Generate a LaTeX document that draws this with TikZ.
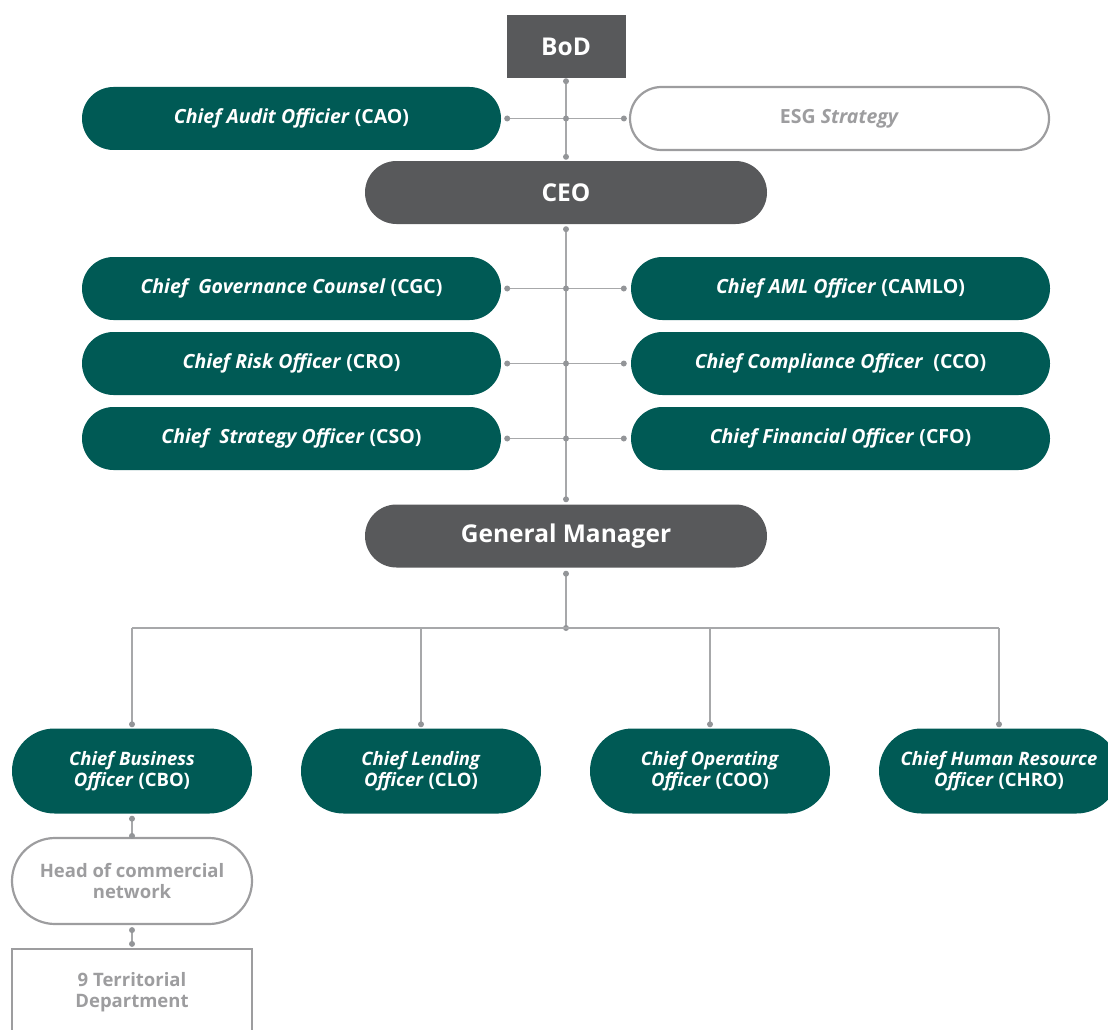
\documentclass[tikz,border=0pt]{standalone}
\usepackage{fontspec}
\setmainfont{Open Sans}
\usetikzlibrary{calc}

\definecolor{deepgreen}{HTML}{005A55}
\definecolor{slate}{HTML}{58595B}
\definecolor{wire}{HTML}{A7A8AA}
\definecolor{knob}{HTML}{939598}
\definecolor{pale}{HTML}{9D9D9F}

\begin{document}
\begin{tikzpicture}[x=1pt, y=-1pt,
  every node/.style={font=\bfseries\fontsize{18.5}{21.5}\selectfont, align=center, inner sep=0pt},
  top/.style={fill=slate, text=white, font=\bfseries\fontsize{24.5}{30}\selectfont},
  wide/.style={minimum width=402pt, minimum height=63pt, rounded corners=31.5pt},
  officer/.style={fill=deepgreen, text=white, minimum width=419pt, minimum height=63pt, rounded corners=31.5pt, font=\bfseries\fontsize{19.5}{23}\selectfont},
  unit/.style={fill=deepgreen, text=white, minimum width=240pt, minimum height=85pt, rounded corners=42.5pt},
  ghost/.style={draw=pale, line width=2.2pt, fill=white, text=pale},
  link/.style={draw=wire, line width=1.4pt},
  dot/.style={circle, fill=knob, inner sep=0pt, minimum size=6pt}
]
\useasboundingbox (0,0) rectangle (1108,1030);

% top of the chart
\node[top, minimum width=119pt, minimum height=63pt] (bod) at (566,46.5) {BoD};
\node[officer] (cao) at (291.5,118.5) {\textit{Chief Audit Officier} (CAO)};
\node[ghost, minimum width=419pt, minimum height=63pt, rounded corners=31.5pt, font=\bfseries\fontsize{19.5}{23}\selectfont] (esg) at (839.5,118.5) {ESG \textit{Strategy}};
\node[top, wide] (ceo) at (566,192.5) {CEO};

% staff officers
\node[officer] (cgc) at (291.5,288.5) {\textit{Chief\ \ Governance Counsel} (CGC)};
\node[officer] (camlo) at (840.5,288.5) {\textit{Chief AML Officer} (CAMLO)};
\node[officer] (cro) at (291.5,363.5) {\textit{Chief Risk Officer} (CRO)};
\node[officer] (cco) at (840.5,363.5) {\textit{Chief Compliance Officer}\ \ (CCO)};
\node[officer] (cso) at (291.5,438.5) {\textit{Chief\ \ Strategy Officer} (CSO)};
\node[officer] (cfo) at (840.5,438.5) {\textit{Chief Financial Officer} (CFO)};
\node[top, wide] (gm) at (566,536) {General Manager};

% line officers
\node[unit] (cbo) at (132,771) {\textit{Chief Business}\\\textit{Officer} (CBO)};
\node[unit] (clo) at (421,771) {\textit{Chief Lending}\\\textit{Officer} (CLO)};
\node[unit] (coo) at (710,771) {\textit{Chief Operating}\\\textit{Officer} (COO)};
\node[unit] (chro) at (999,771) {\textit{Chief Human Resource}\\\textit{Officer} (CHRO)};
\node[ghost, minimum width=240pt, minimum height=86pt, rounded corners=43pt] (head) at (132,881) {Head of commercial\\network};
\node[ghost, minimum width=240pt, minimum height=86pt] (terr) at (132,992) {9 Territorial\\Department};

% connectors
\draw[link] ($(bod.south)+(0,-3pt)$) node[dot]{} -- ($(ceo.north)+(0,4pt)$) node[dot]{};
\draw[link] ($(cao.east)+(6pt,0)$) node[dot]{} -- ($(esg.west)+(-5pt,0)$) node[dot]{};
\node[dot] at (bod |- esg) {};

\draw[link] ($(ceo.south)+(0,-5pt)$) node[dot]{} -- ($(gm.north)+(0,5pt)$) node[dot]{};
\foreach \l/\r in {cgc/camlo, cro/cco, cso/cfo} {
  \draw[link] ($(\l.east)+(6pt,0)$) node[dot]{} -- ($(\r.west)+(-7pt,0)$) node[dot]{};
  \node[dot] at (ceo |- \l) {};
}

\coordinate (bus) at (566,628);
\draw[link] ($(gm.south)+(0,-6pt)$) node[dot]{} -- (bus) node[dot]{};
\draw[link] (cbo |- bus) -- (chro |- bus);
\foreach \u in {cbo,clo,coo,chro}
  \draw[link] (\u |- bus) -- ($(\u.north)+(0,4pt)$) node[dot]{};

\draw[link] ($(cbo.south)+(0,-5pt)$) node[dot]{} -- ($(head.north)+(0,1pt)$) node[dot]{};
\draw[link] ($(head.south)+(0,-5pt)$) node[dot]{} -- ($(terr.north)+(0,4pt)$) node[dot]{};
\end{tikzpicture}
\end{document}
